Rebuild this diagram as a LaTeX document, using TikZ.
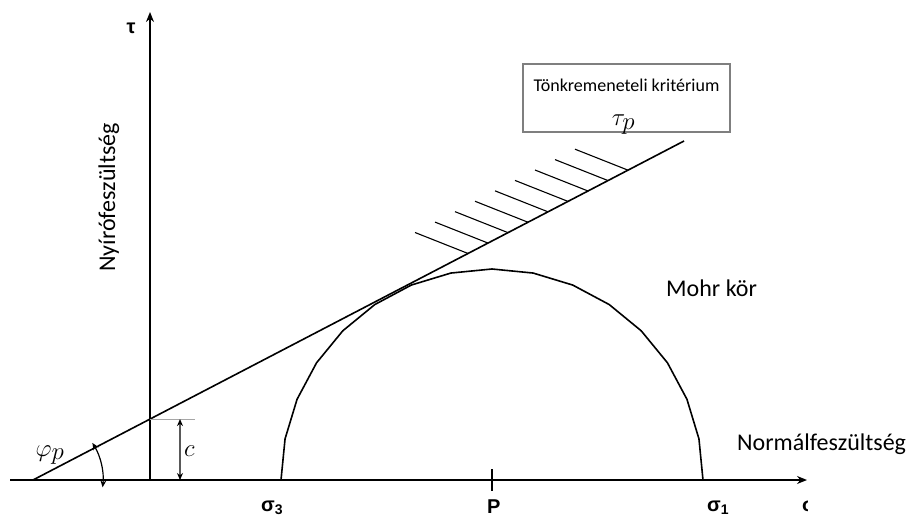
\documentclass[tikz,border=0pt]{standalone}
\usepackage{amsmath}
\usepackage{fontspec}
\setmainfont{Carlito}
\newfontfamily\symfont{Liberation Sans}
\usetikzlibrary{arrows.meta,positioning,calc}
\definecolor{frame}{HTML}{7F7F7F}
\definecolor{guide}{HTML}{A6A6A6}

\begin{document}
\begin{tikzpicture}[x=1pt,y=1pt,
  axis/.style={line width=1.6pt,-{Stealth[length=10pt,width=8pt]}},
  crit/.style={line width=1.6pt},
  hatch/.style={line width=1.1pt},
  dim/.style={line width=1.4pt,{Stealth[length=7pt,width=6pt]}-{Stealth[length=7pt,width=6pt]}},
  box/.style={draw=frame,line width=1.6pt,minimum width=207pt,minimum height=68pt,inner sep=0pt},
  lbl/.style={font=\fontsize{24}{28}\selectfont,inner sep=0pt},
  small/.style={font=\fontsize{18}{22}\selectfont,inner sep=0pt},
  sig/.style={font=\symfont\bfseries\fontsize{20}{24}\selectfont,inner sep=0pt},
  mth/.style={font=\fontsize{34}{38}\selectfont,inner sep=0pt}
]
\useasboundingbox (0,0) rectangle (907,517);
% axes
\coordinate (O) at (150,37);
\coordinate (xl) at (10,37);
\coordinate (xr) at (807,37);
\coordinate (yt) at (150,505);
\draw[axis] (xl) -- (xr);
\draw[axis] (O) -- (yt);
\node[sig] (tau) at (131,489) {τ};
\node[lbl,rotate=90,anchor=base west] (ny) at (115,245) {Nyírófeszültség};
\node[lbl,anchor=base west] (nf) at (737,67) {Normálfeszültség};
% failure envelope
\coordinate (A) at (33,37);
\coordinate (B) at (684,376);
\draw[crit] (A) -- (B);
\foreach \i in {0,...,8}{
  \pgfmathsetmacro\f{(435+20*\i)/651}
  \draw[hatch] ($(A)!\f!(B)$) -- ++(158.4:57);
}
\node[box] (crit) at (626.5,419) {};
\node[small,anchor=base] (ct) at ([yshift=-28pt]crit.north) {Tönkremeneteli kritérium};
\node[mth,anchor=base] (tp) at ([xshift=-3pt,yshift=7pt]crit.south) {$\tau_p$};
% cohesion and friction angle
\coordinate (C) at ($(A)!117/651!(B)$);
\coordinate (Cr) at ($(C)+(45,0)$);
\coordinate (ca) at ($(C)+(30,0)$);
\coordinate (cb) at (180,37);
\draw[guide,line width=0.8pt] (C) -- (Cr);
\draw[dim] (ca) -- (cb);
\node[mth,anchor=west] (c) at (184,66) {$c$};
\draw[dim,line width=1.2pt] ([shift={(32:70)}]A) arc[start angle=32,end angle=-6,radius=70];
\node[mth] (phi) at (50,62) {$\varphi_p$};
% Mohr circle
\coordinate (P) at (492,37);
\draw[crit] plot[domain=180:0,samples=17] ({492+211*cos(\x)},{37+211*sin(\x)});
\draw[line width=1.1pt] ($(P)+(0,11)$) -- ($(P)+(0,-11)$);
\node[lbl,anchor=base west] (mk) at (666,220) {Mohr kör};
\node[sig,anchor=base west] (s3) at (261,6) {σ\textsubscript{3}};
\node[sig,anchor=base west] (pl) at (487,4) {P};
\node[sig,anchor=base west] (s1) at (707,6) {σ\textsubscript{1}};
\begin{scope}
  \clip (790,-5) rectangle (807.5,30);
  \node[sig,anchor=base west] (sx) at (802,6) {σ};
\end{scope}
\end{tikzpicture}
\end{document}
